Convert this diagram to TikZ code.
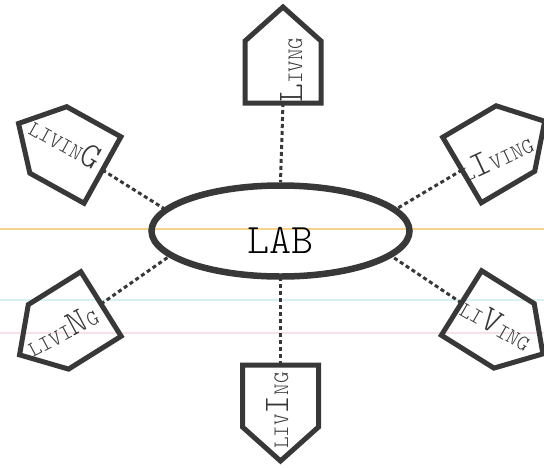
\documentclass[tikz,border=0pt]{standalone}
\usepackage{fontspec}
\setmonofont{Latin Modern Mono Light}
\usetikzlibrary{shapes.geometric}
\definecolor{ink}{HTML}{383838}
\definecolor{scanyellow}{RGB}{247,210,140}
\definecolor{scancyan}{RGB}{215,240,240}
\definecolor{scanpink}{RGB}{246,226,230}
\newcommand\smtt{\ttfamily\fontsize{22}{22}\selectfont}
\newcommand\bigtt{\ttfamily\fontsize{36}{36}\selectfont}
\newcommand\drawhouse[4]{%
  \begin{scope}[shift={(#2,#3)},rotate=#4]
    \draw[housebox] (-38pt,0pt) -- (38pt,0pt) -- (38pt,62pt) -- (0pt,96pt) -- (-38pt,62pt) -- cycle;
    \coordinate (#1) at (0,0);
  \end{scope}}
\tikzset{
  housebox/.style={draw=ink,line width=5pt,line join=miter},
  labbox/.style={ellipse,draw=ink,line width=6.5pt,minimum width=258pt,minimum height=91pt,inner sep=0pt,
    text height=45.7pt,text depth=0pt},
  link/.style={draw=ink,line width=3pt,dash pattern=on 4pt off 3pt},
  word/.style={anchor=base west,inner sep=0pt,text=ink},
  scanline/.style={line width=2pt}
}
\begin{document}
\begin{tikzpicture}[x=1pt,y=-1pt]
\useasboundingbox (0,0) rectangle (544,467);
\clip (0,0) rectangle (544,467);
\fill[white] (0,0) rectangle (544,467);
% scan artefacts
\draw[scanline,scanyellow] (0,229) -- (544,229);
\draw[scanline,scancyan,line width=1.5pt] (0,300) -- (544,300);
\draw[scanline,scanpink,line width=1.5pt] (0,333) -- (544,333);
% centre
\node[labbox] (lab) at (280.5,231) {\ttfamily\fontsize{42}{42}\selectfont LAB};
% houses
\drawhouse{hbT}{283}{103}{0}
\drawhouse{hbB}{280.5}{365}{180}
\drawhouse{hbUL}{102.5}{170}{61}
\drawhouse{hbUR}{462}{170}{-59.5}
\drawhouse{hbLL}{101}{304}{122}
\drawhouse{hbLR}{461.5}{303}{-122}
% connectors
\draw[link] (hbT) -- (lab.north);
\draw[link] (hbB) -- (lab.south);
\draw[link] (hbUL) -- (lab.169);
\draw[link] (hbUR) -- (lab.11);
\draw[link] (hbLL) -- (lab.193);
\draw[link] (hbLR) -- (lab.347);
% words
\node[word,rotate=90] (tT) at (302,103) {{\bigtt L}{\smtt IVNG}};
\node[word,rotate=90] (tB) at (288,449) {{\smtt LIV}{\bigtt I}{\smtt NG}};
\node[word,rotate=-29] (tUL) at (27,133) {{\smtt LIVIN}{\bigtt G}};
\node[word,rotate=25] (tUR) at (466,183) {{\smtt L}{\bigtt I}{\smtt VING}};
\node[word,rotate=28] (tLL) at (33,358) {{\smtt LIVI}{\bigtt N}{\smtt G}};
\node[word,rotate=-30] (tLR) at (458,314) {{\smtt LI}{\bigtt V}{\smtt ING}};
\end{tikzpicture}
\end{document}
